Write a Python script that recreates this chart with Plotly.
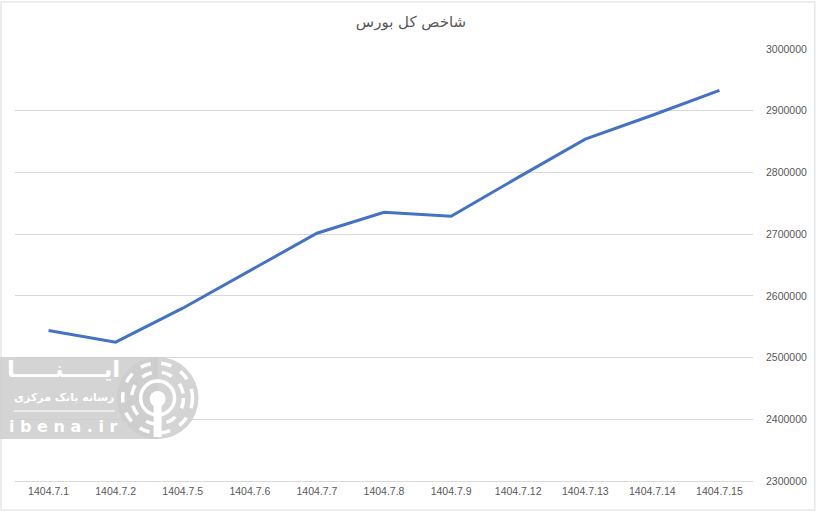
import plotly.graph_objects as go

categories = ["1404.7.1", "1404.7.2", "1404.7.5", "1404.7.6", "1404.7.7", "1404.7.8",
              "1404.7.9", "1404.7.12", "1404.7.13", "1404.7.14", "1404.7.15"]
index_values = [2544000, 2525000, 2580000, 2641000, 2701500, 2735500,
                2729000, 2792000, 2854000, 2892600, 2933000]
y_ticks = [2300000, 2400000, 2500000, 2600000, 2700000, 2800000, 2900000, 3000000]
title_text = "شاخص کل بورس"

W, H = 819, 512
L, R, T, B = 15, 64, 49, 31
PW, PH = W - L - R, H - T - B


def px(x):
    return (x - L) / PW


def py(y):
    return (H - B - y) / PH


fig = go.Figure()
fig.add_trace(go.Scatter(
    x=categories, y=index_values, mode="lines",
    line=dict(color="#4472C4", width=3),
    hoverinfo="x+y", showlegend=False,
))

shapes = []
# chart border
shapes.append(dict(type="rect", xref="paper", yref="paper",
                   x0=px(1), x1=px(817), y0=py(2), y1=py(510),
                   line=dict(color="#d9d9d9", width=1), fillcolor="rgba(0,0,0,0)", layer="below"))
# watermark band
band = "rgba(205,205,205,0.85)"
shapes.append(dict(type="rect", xref="paper", yref="paper",
                   x0=px(0), x1=px(158), y0=py(357), y1=py(439),
                   line=dict(width=0), fillcolor=band, layer="above"))
shapes.append(dict(type="circle", xref="paper", yref="paper",
                   x0=px(117), x1=px(199), y0=py(357), y1=py(439),
                   line=dict(width=0), fillcolor=band, layer="above"))
# rings
for r, dash in [(35, "dash"), (26, "dash"), (17, "solid")]:
    shapes.append(dict(type="circle", xref="paper", yref="paper",
                       x0=px(158 - r), x1=px(158 + r), y0=py(398 - r), y1=py(398 + r),
                       line=dict(color="white", width=3.5, dash=dash),
                       fillcolor="rgba(0,0,0,0)", layer="above"))
shapes.append(dict(type="circle", xref="paper", yref="paper",
                   x0=px(150), x1=px(166), y0=py(391), y1=py(407),
                   line=dict(width=0), fillcolor="white", layer="above"))
shapes.append(dict(type="rect", xref="paper", yref="paper",
                   x0=px(154), x1=px(162), y0=py(400), y1=py(437),
                   line=dict(width=0), fillcolor="white", layer="above"))
shapes.append(dict(type="line", xref="paper", yref="paper",
                   x0=px(14), x1=px(115), y0=py(411), y1=py(411),
                   line=dict(color="white", width=1), layer="above"))

annotations = [
    dict(text="<b>ایـــــنـــــا</b>", xref="paper", yref="paper", x=px(64), y=py(369),
         showarrow=False, font=dict(family="DejaVu Sans", size=23, color="white"),
         xanchor="center", yanchor="middle"),
    dict(text="<b>رسانه بانک مرکزی</b>", xref="paper", yref="paper", x=px(64), y=py(397),
         showarrow=False, font=dict(family="DejaVu Sans", size=11, color="white"),
         xanchor="center", yanchor="middle"),
    dict(text="<b>i b e n a . i r</b>", xref="paper", yref="paper", x=px(64), y=py(426),
         showarrow=False, font=dict(family="DejaVu Sans", size=16, color="white"),
         xanchor="center", yanchor="middle"),
]

fig.update_layout(
    width=W, height=H,
    margin=dict(l=L, r=R, t=T, b=B, pad=0),
    paper_bgcolor="white", plot_bgcolor="white",
    title=dict(text=title_text, x=411 / W, xanchor="center", y=1 - 22 / H, yanchor="middle",
               font=dict(family="DejaVu Sans", size=15, color="#595959")),
    xaxis=dict(type="category", showgrid=False, showline=True, linecolor="#d9d9d9",
               linewidth=1, ticks="", tickfont=dict(family="Liberation Sans", size=10.5, color="#595959"),
               range=[-0.5, len(categories) - 0.5], fixedrange=True),
    yaxis=dict(side="right", range=[2300000, 3000000], tickvals=y_ticks,
               ticktext=[str(v) for v in y_ticks],
               showgrid=True, gridcolor="#d9d9d9", gridwidth=1, zeroline=False,
               showline=False, ticks="", ticklabelstandoff=12,
               tickfont=dict(family="Liberation Sans", size=10.5, color="#595959"),
               fixedrange=True),
    shapes=shapes, annotations=annotations,
)

fig.write_html("out.html", config={"displayModeBar": False},
               post_script="document.body.style.margin='0';document.body.style.overflow='hidden';")
